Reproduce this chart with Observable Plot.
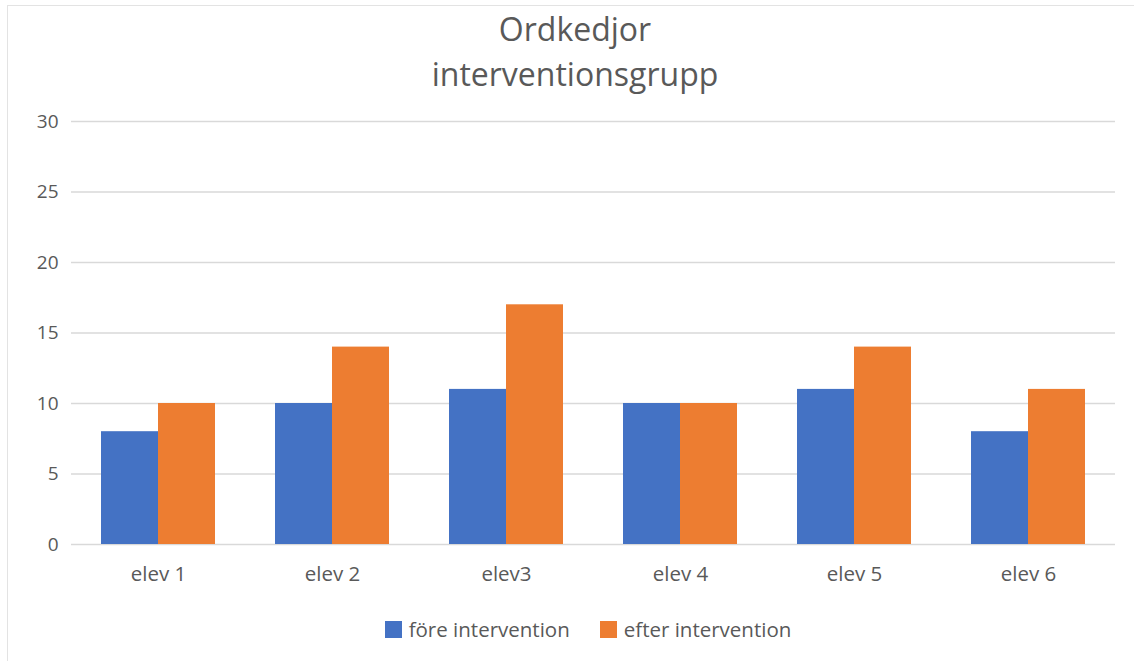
<!DOCTYPE html>
<html>
<head>
<meta charset="utf-8">
<script src="https://cdn.jsdelivr.net/npm/d3@7"></script>
<script src="https://cdn.jsdelivr.net/npm/@observablehq/plot@0.6"></script>
<style>
  html, body { margin: 0; padding: 0; background: #fff; }
  #frame {
    position: absolute; left: 7px; top: 5px; width: 1127px; height: 656px;
    border-left: 1.5px solid #e3e3e3; border-top: 1.5px solid #e3e3e3;
    box-sizing: border-box;
  }
  #chart { position: absolute; left: 0; top: 0; width: 1134px; height: 661px;
    font-family: "Open Sans", sans-serif; color: #595959; }
  .title { position: absolute; left: 0; width: 1150px; text-align: center;
    font-size: 32px; color: #595959; line-height: 1; }
  #plot { position: absolute; left: 0; top: 100px; }
  #legend { position: absolute; left: 0; width: 1176px; top: 615px;
    display: flex; justify-content: center; gap: 30px; font-size: 20.5px; color: #595959; }
  .item { display: flex; align-items: center; gap: 7px; }
  .sw { width: 17px; height: 17px; display: inline-block; }
</style>
</head>
<body>
<div id="frame"></div>
<div id="chart">
  <div class="title" id="t1" style="top:13px"></div>
  <div class="title" id="t2" style="top:58px"></div>
  <div id="plot"></div>
  <div id="legend"></div>
</div>
<script>
// Chart data
const titleLines = ["Ordkedjor", "interventionsgrupp"];
const students = ["elev 1", "elev 2", "elev3", "elev 4", "elev 5", "elev 6"];
const series = ["före intervention", "efter intervention"];
const before = [8, 10, 11, 10, 11, 8];
const after = [10, 14, 17, 10, 14, 11];
const colors = ["#4472C4", "#ED7D31"];
const yTicks = [0, 5, 10, 15, 20, 25, 30];

const rows = students.flatMap((elev, i) => [
  {elev, serie: series[0], value: before[i]},
  {elev, serie: series[1], value: after[i]}
]);

document.getElementById("t1").textContent = titleLines[0];
document.getElementById("t2").textContent = titleLines[1];

const chart = Plot.plot({
  width: 1134,
  height: 500,
  marginLeft: 70,
  marginRight: 18,
  marginTop: 21,
  marginBottom: 56,
  style: {fontFamily: "'Open Sans', sans-serif", color: "#595959", background: "transparent"},
  fx: {domain: students, padding: 0, label: null, axis: null},
  x: {domain: series, paddingInner: 0, paddingOuter: 0.515, axis: null},
  y: {domain: [0, 30], axis: null},
  color: {domain: series, range: colors},
  marks: [
    Plot.gridY(yTicks, {stroke: "#d9d9d9", strokeOpacity: 1, strokeWidth: 1.3}),
    Plot.axisY(yTicks, {tickSize: 0, tickPadding: 13, label: null, fill: "#595959", fontSize: 19}),
    Plot.barY(rows, {fx: "elev", x: "serie", y: "value", fill: "serie"}),
    Plot.axisFx({anchor: "bottom", tickSize: 0, tickPadding: 22, label: null, fill: "#595959", fontSize: 20.5})
  ]
});
document.getElementById("plot").appendChild(chart);

// Legend
const legend = document.getElementById("legend");
series.forEach((s, i) => {
  const item = document.createElement("div");
  item.className = "item";
  const sw = document.createElement("span");
  sw.className = "sw";
  sw.style.background = colors[i];
  const label = document.createElement("span");
  label.textContent = s;
  item.append(sw, label);
  legend.appendChild(item);
});
</script>
</body>
</html>
